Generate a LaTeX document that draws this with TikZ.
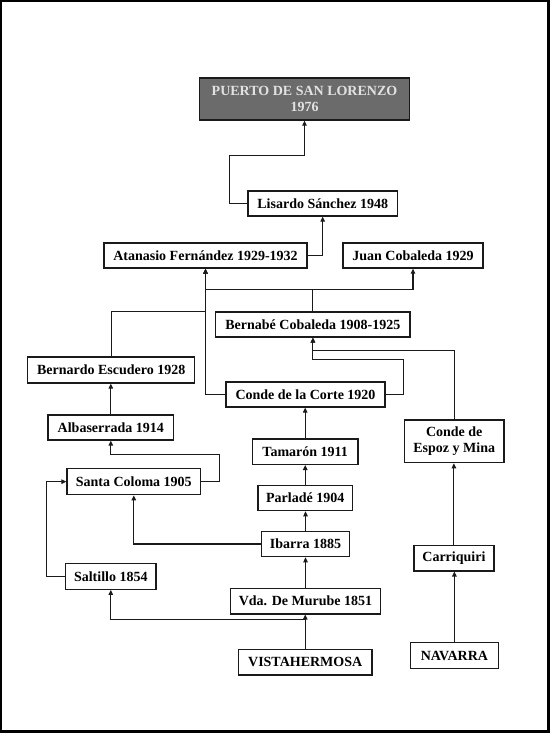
\documentclass[tikz,border=0pt]{standalone}
\usepackage{fontspec}
\setmainfont{Liberation Serif}
\usetikzlibrary{arrows.meta}
\definecolor{boxgray}{HTML}{6B6B6B}
\definecolor{boxtext}{HTML}{E2E2E2}
\definecolor{edge}{HTML}{1A1A1A}
\tikzset{
  box/.style={draw=edge, line width=1.3pt, fill=white, inner sep=0pt, align=center,
    font=\fontsize{14}{16.5}\selectfont\bfseries},
  topbox/.style={box, fill=boxgray, text=boxtext},
  arr/.style={draw=edge, line width=1.1pt, -{Triangle[length=5pt,width=4.5pt]}},
  ln/.style={draw=edge, line width=1.1pt}
}
\begin{document}
\begin{tikzpicture}[x=1pt,y=1pt]
\useasboundingbox (0,0) rectangle (550,-733);
\fill[black] (0,0) rectangle (550,-733);
\fill[white] (2.2,-2.2) rectangle (546.5,-730);
% nodes
\node[topbox, minimum width=209.7pt, minimum height=42pt] (puerto) at (304.5,-99) {PUERTO DE SAN LORENZO\\1976};
\node[box, minimum width=149.4pt, minimum height=25pt] (lisardo) at (322.7,-203.5) {Lisardo Sánchez 1948};
\node[box, minimum width=203pt, minimum height=25pt] (atanasio) at (205.5,-255.5) {Atanasio Fernández 1929-1932};
\node[box, minimum width=140pt, minimum height=25pt] (juan) at (413,-255.5) {Juan Cobaleda 1929};
\node[box, minimum width=194.3pt, minimum height=25pt] (bernabe) at (312.9,-324.5) {Bernabé Cobaleda 1908-1925};
\node[box, minimum width=167pt, minimum height=26pt] (bernardo) at (111.2,-370) {Bernardo Escudero 1928};
\node[box, minimum width=159pt, minimum height=25pt] (corte) at (305.5,-394.5) {Conde de la Corte 1920};
\node[box, minimum width=125.6pt, minimum height=25pt] (albas) at (110.8,-427.5) {Albaserrada 1914};
\node[box, minimum width=99.6pt, minimum height=42.7pt] (espoz) at (454.2,-441.3) {Conde de\\Espoz y Mina};
\node[box, minimum width=105.3pt, minimum height=25.3pt] (tamaron) at (305.2,-451.7) {Tamarón 1911};
\node[box, minimum width=133.6pt, minimum height=26pt] (santa) at (133.8,-481.7) {Santa Coloma 1905};
\node[box, minimum width=94.7pt, minimum height=25.4pt] (parlade) at (305.2,-498) {Parladé 1904};
\node[box, minimum width=88.4pt, minimum height=25.4pt] (ibarra) at (305.5,-544) {Ibarra 1885};
\node[box, minimum width=80pt, minimum height=25.7pt] (carri) at (453.9,-558) {Carriquiri};
\node[box, minimum width=90.4pt, minimum height=25.6pt] (saltillo) at (110.8,-576.5) {Saltillo 1854};
\node[box, minimum width=150.2pt, minimum height=25.7pt] (vda) at (305.5,-601) {Vda. De Murube 1851};
\node[box, minimum width=133.5pt, minimum height=25.7pt] (vista) at (305.2,-662) {VISTAHERMOSA};
\node[box, minimum width=88pt, minimum height=26pt] (navarra) at (454.4,-655.7) {NAVARRA};
% connectors
\draw[arr] (lisardo.west) -- ++(-18.3,0) |- ([yshift=-35pt]puerto.south) -- (puerto.south);
\draw[arr] (atanasio.east) -| (lisardo.south);
\coordinate (j1) at ([yshift=22pt]bernabe.north);
\draw[ln] (bernabe.north) -- (j1);
\draw[arr] (j1) -| (atanasio.south);
\draw[arr] (j1) -| (juan.south);
\draw[arr] (bernardo.north) |- (atanasio.south |- bernabe.north) -- (atanasio.south);
\draw[arr] (corte.west) -| (atanasio.south);
\draw[arr] (corte.east) -- ++(17.7,0) |- ([yshift=-22pt]bernabe.south) -- (bernabe.south);
\draw[arr] (espoz.north) |- ([yshift=-13pt]bernabe.south) -- (bernabe.south);
\draw[arr] (tamaron.north) -- (tamaron.north |- corte.south);
\draw[arr] (parlade.north) -- (parlade.north |- tamaron.south);
\draw[arr] (ibarra.north) -- (ibarra.north |- parlade.south);
\draw[arr] (vda.north) -- (vda.north |- ibarra.south);
\draw[arr] (vista.north) -- (vista.north |- vda.south);
\coordinate (j2) at ([yshift=-5pt]vista.north |- vda.south);
\draw[arr] (j2) -| (saltillo.south);
\draw[arr] (ibarra.west) -| (santa.south);
\draw[arr] (santa.east) -- ++(18.4,0) |- ([yshift=-14pt]albas.south) -- (albas.south);
\draw[arr] (albas.north) -- (albas.north |- bernardo.south);
\draw[arr] (saltillo.west) -- ++(-18.2,0) |- (santa.west);
\draw[arr] (carri.north) -- (carri.north |- espoz.south);
\draw[arr] (navarra.north) -- (navarra.north |- carri.south);
\end{tikzpicture}
\end{document}
